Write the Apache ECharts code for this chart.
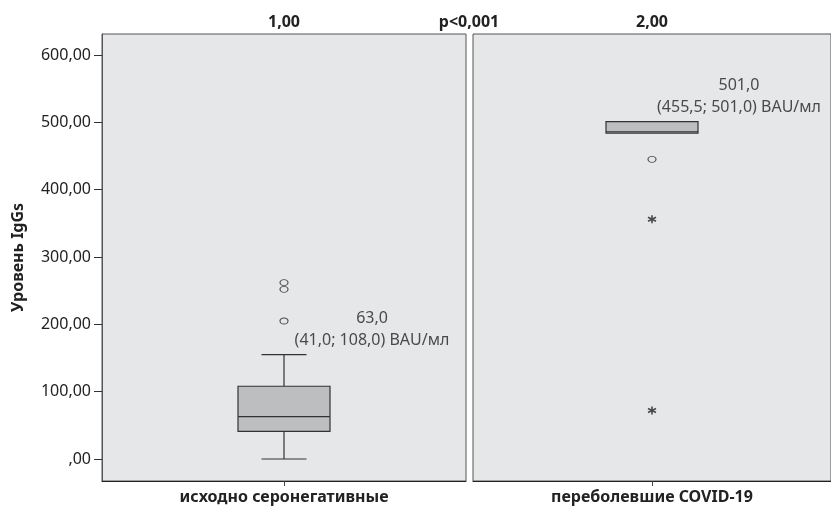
<!DOCTYPE html>
<html>
<head>
<meta charset="utf-8">
<script src="https://cdn.jsdelivr.net/npm/echarts@6/dist/echarts.min.js"></script>
<style>
  html, body { margin: 0; padding: 0; background: #fff; }
  #chart { width: 831px; height: 511px; }
</style>
</head>
<body>
<div id="chart"></div>
<script>
var groups = ['исходно серонегативные', 'переболевшие COVID-19'];
var groupCodes = ['1,00', '2,00'];
// [min whisker, Q1, median, Q3, max whisker]
var boxLeft = [0, 41, 63, 108, 155];
var boxRight = [484, 484, 486, 501, 501];
var outliersLeft = [262, 252, 205];
var outliersRight = [445];
var extremesRight = [356, 72];
var yTicks = [0, 100, 200, 300, 400, 500, 600];
var noteLeft = '63,0\n(41,0; 108,0) BAU/мл';
var noteRight = '501,0\n(455,5; 501,0) BAU/мл';
var pText = 'p<0,001';

var font = 'Noto Sans';
var bold = {fontFamily: font, fontSize: 16, fontWeight: 'bold', color: '#222'};
var chart = echarts.init(document.getElementById('chart'));

function xBottom(i, name) {
    return {
        type: 'category', gridIndex: i, position: 'bottom', data: [name],
        axisLine: {show: true, onZero: false, lineStyle: {color: '#222', width: 1}},
        axisTick: {show: true, alignWithLabel: true, length: 5, lineStyle: {color: '#444'}},
        axisLabel: Object.assign({margin: 8}, bold)
    };
}
function xTop(i, name) {
    return {
        type: 'category', gridIndex: i, position: 'top', data: [name],
        axisLine: {show: false, onZero: false}, axisTick: {show: false},
        axisLabel: Object.assign({margin: 4}, bold)
    };
}
function yAx(i, show) {
    return {
        type: 'value', gridIndex: i, min: -32.7, max: 631.2,
        splitLine: {show: false},
        axisLine: {show: show, lineStyle: {color: '#555'}},
        axisTick: {show: show, length: 8, customValues: yTicks, lineStyle: {color: '#333'}},
        axisLabel: {
            show: show, customValues: yTicks, fontFamily: font, fontSize: 16, color: '#222', margin: 11,
            formatter: function (v) { return v === 0 ? ',00' : v.toFixed(2).replace('.', ','); }
        },
        name: show ? 'Уровень IgGs' : '',
        nameLocation: 'middle', nameGap: 76,
        nameTextStyle: {fontFamily: font, fontSize: 16, fontWeight: 'bold', color: '#222'}
    };
}

function renderBox(params, api) {
    var x = api.value(0);
    var low = api.coord([x, api.value(1)]);
    var q1 = api.coord([x, api.value(2)]);
    var med = api.coord([x, api.value(3)]);
    var q3 = api.coord([x, api.value(4)]);
    var high = api.coord([x, api.value(5)]);
    var cx = low[0], hw = 46, cw = 22.5;
    var line = {stroke: '#333', lineWidth: 1.2};
    var kids = [];
    if (high[1] < q3[1] - 0.5) {
        kids.push({type: 'line', shape: {x1: cx, y1: high[1], x2: cx, y2: q3[1]}, style: line});
        kids.push({type: 'line', shape: {x1: cx - cw, y1: high[1], x2: cx + cw, y2: high[1]}, style: line});
    }
    if (low[1] > q1[1] + 0.5) {
        kids.push({type: 'line', shape: {x1: cx, y1: q1[1], x2: cx, y2: low[1]}, style: line});
        kids.push({type: 'line', shape: {x1: cx - cw, y1: low[1], x2: cx + cw, y2: low[1]}, style: line});
    }
    kids.push({type: 'rect', shape: {x: cx - hw, y: q3[1], width: hw * 2, height: q1[1] - q3[1]},
        style: {fill: '#bdbec0', stroke: '#333', lineWidth: 1.2}});
    kids.push({type: 'line', shape: {x1: cx - hw, y1: med[1], x2: cx + hw, y2: med[1]}, style: line});
    return {type: 'group', children: kids};
}

var asterisk = 'path://M0,-5L0,5M-4.3,-2.5L4.3,2.5M-4.3,2.5L4.3,-2.5';

var option = {
    animation: false,
    graphic: [{
        type: 'text', x: 469, y: 22,
        style: {text: pText, font: 'bold 16px "Noto Sans"', fill: '#222', align: 'center', verticalAlign: 'middle'}
    }],
    grid: [
        {left: 102, top: 34, width: 364, height: 447, show: true, backgroundColor: '#e6e7e8', borderColor: '#555', borderWidth: 1},
        {left: 473, top: 34, width: 364, height: 447, show: true, backgroundColor: '#e6e7e8', borderColor: '#555', borderWidth: 1}
    ],
    xAxis: [xBottom(0, groups[0]), xBottom(1, groups[1]), xTop(0, groupCodes[0]), xTop(1, groupCodes[1])],
    yAxis: [yAx(0, true), yAx(1, false)],
    series: [
        {
            type: 'custom', xAxisIndex: 0, yAxisIndex: 0, renderItem: renderBox,
            data: [[0].concat(boxLeft)]
        },
        {
            type: 'custom', xAxisIndex: 1, yAxisIndex: 1, renderItem: renderBox,
            data: [[0].concat(boxRight)]
        },
        {
            type: 'scatter', xAxisIndex: 0, yAxisIndex: 0, symbol: 'circle', symbolSize: [8, 6],
            itemStyle: {color: 'rgba(0,0,0,0)', borderColor: '#222', borderWidth: 1},
            data: outliersLeft.map(function (v) { return [0, v]; })
        },
        {
            type: 'scatter', xAxisIndex: 1, yAxisIndex: 1, symbol: 'circle', symbolSize: [8, 6],
            itemStyle: {color: 'rgba(0,0,0,0)', borderColor: '#222', borderWidth: 1},
            data: outliersRight.map(function (v) { return [0, v]; })
        },
        {
            type: 'scatter', xAxisIndex: 1, yAxisIndex: 1, symbol: asterisk, symbolSize: [8, 8],
            itemStyle: {color: 'none', borderColor: '#222', borderWidth: 1.6},
            data: extremesRight.map(function (v) { return [0, v]; })
        },
        {
            type: 'scatter', xAxisIndex: 0, yAxisIndex: 0, symbolSize: 0, silent: true,
            label: {show: true, position: 'inside', offset: [88, 0], align: 'center', lineHeight: 22,
                fontFamily: font, fontSize: 16, color: '#222', formatter: noteLeft},
            data: [[0, 192.6]]
        },
        {
            type: 'scatter', xAxisIndex: 1, yAxisIndex: 1, symbolSize: 0, silent: true,
            label: {show: true, position: 'inside', offset: [87, 0], align: 'center', lineHeight: 22,
                fontFamily: font, fontSize: 16, color: '#222', formatter: noteRight},
            data: [[0, 538]]
        }
    ]
};

chart.setOption(option);
</script>
</body>
</html>
